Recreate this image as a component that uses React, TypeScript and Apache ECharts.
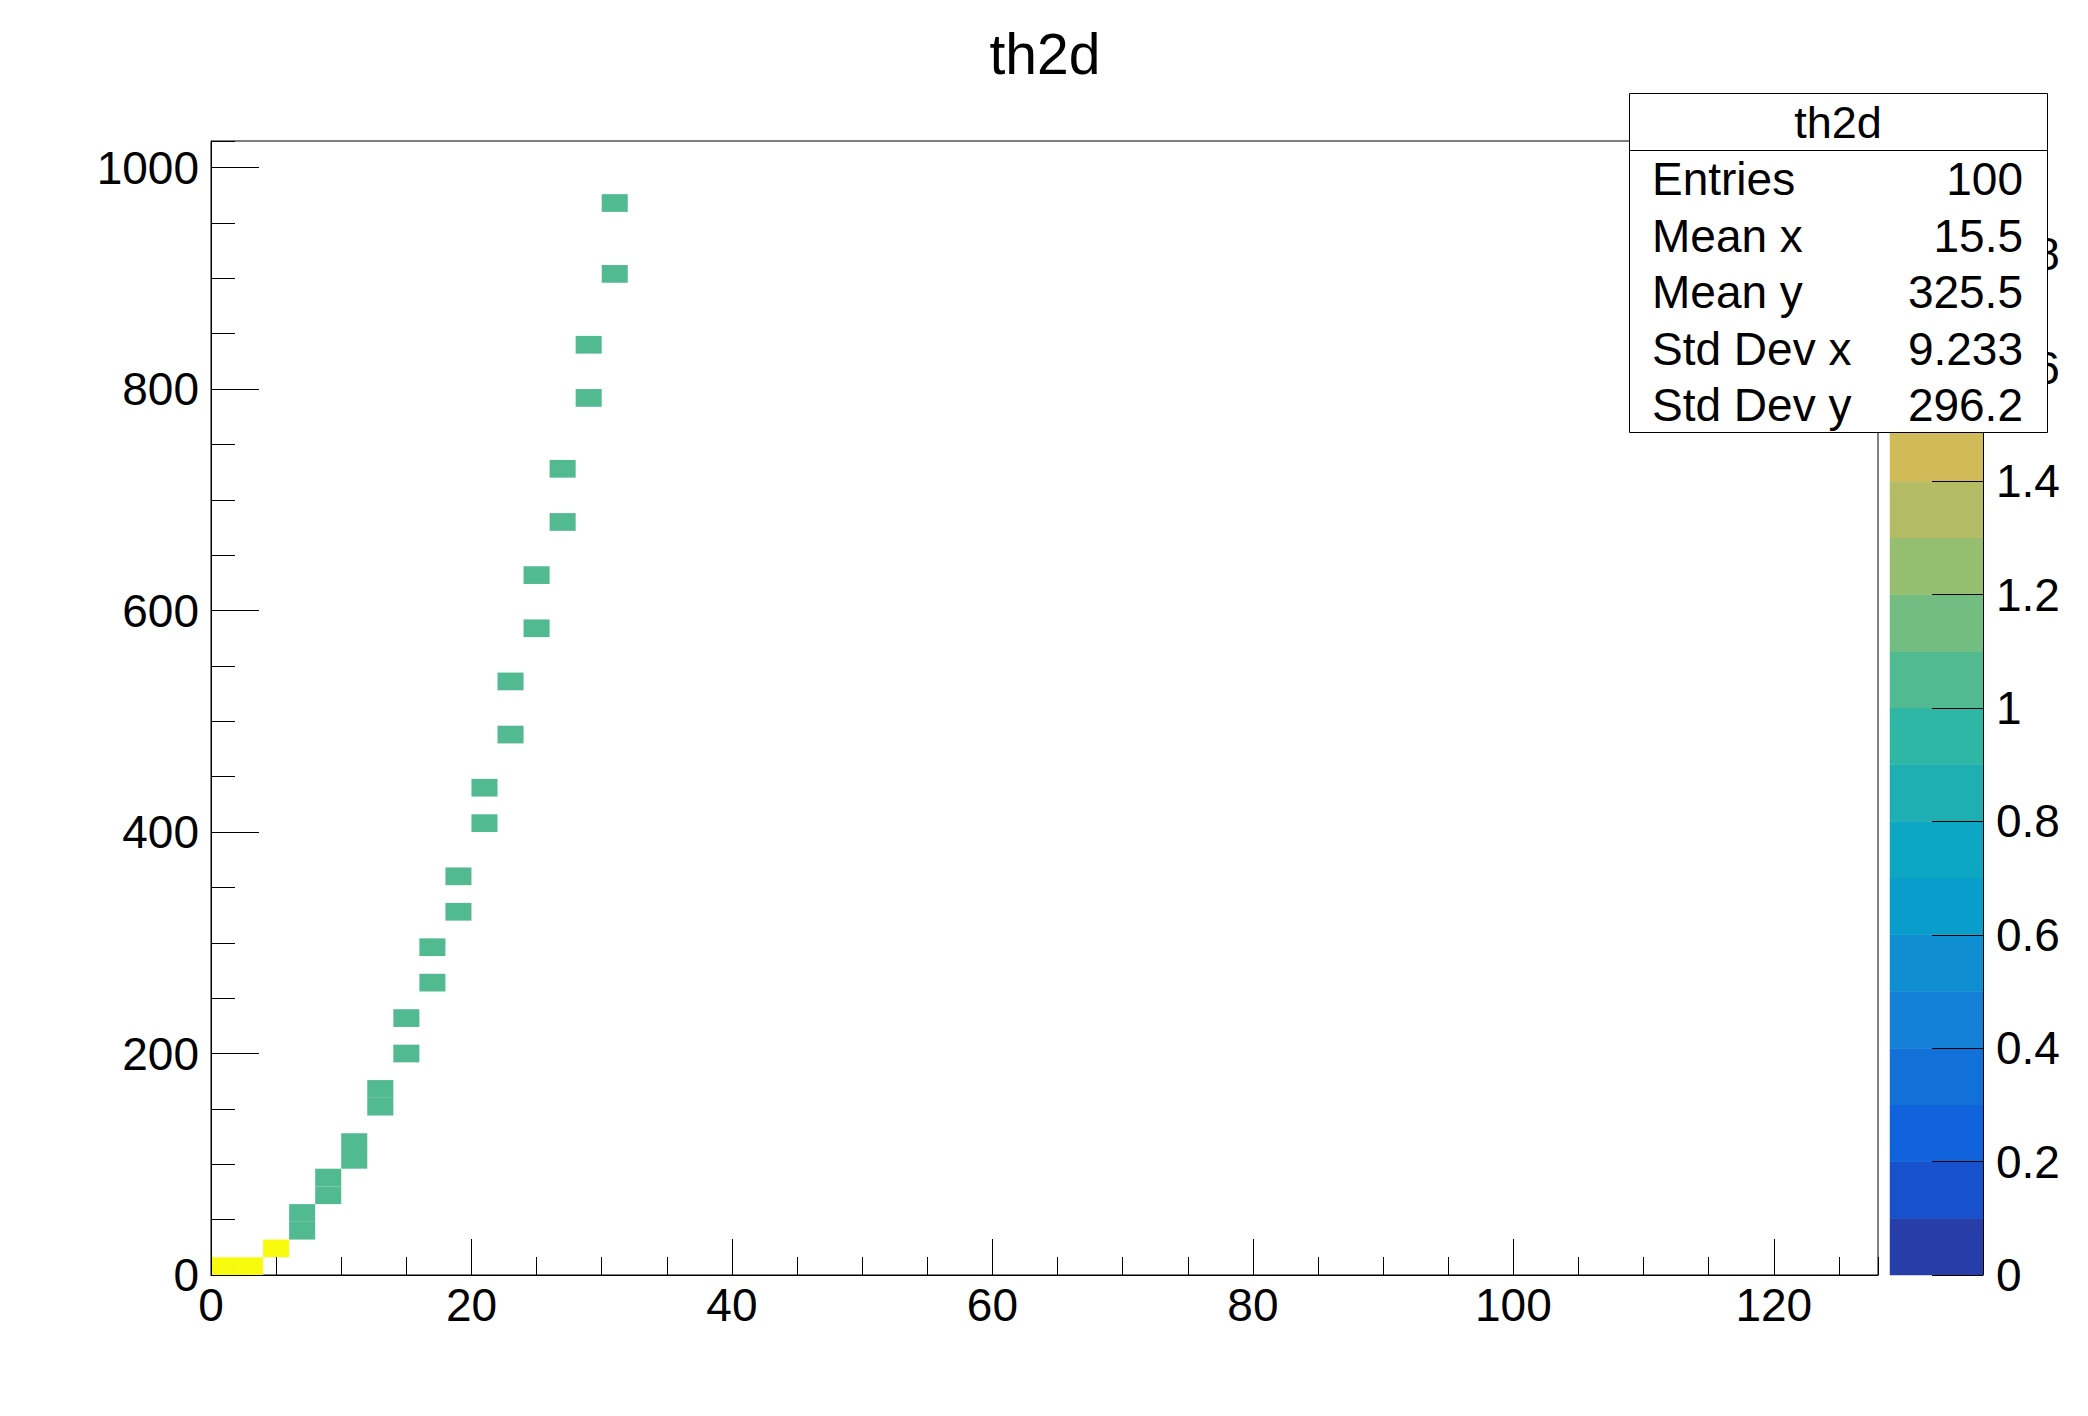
import React, { useEffect, useRef } from 'react';
import * as echarts from 'echarts';

const FONT = "'Liberation Sans', Arial, Helvetica, sans-serif";

// filled bins of th2d: lower x edge, lower y edge, bin content
const cellX = [0, 2, 4, 6, 6, 8, 8, 10, 10, 12, 12, 14, 14, 16, 16, 18, 18, 20, 20, 22, 22, 24, 24, 26, 26, 28, 28, 30, 30];
const cellY = [0, 0, 16, 32, 48, 64, 80, 96, 112, 144, 160, 192, 224, 256, 288, 320, 352, 400, 432, 480, 528, 576, 624, 672, 720, 784, 832, 896, 960];
const cellCount = [2, 2, 2, 1, 1, 1, 1, 1, 1, 1, 1, 1, 1, 1, 1, 1, 1, 1, 1, 1, 1, 1, 1, 1, 1, 1, 1, 1, 1];

const binWidthX = 2;
const binWidthY = 16;

// z palette (kBird, 20 contours from 0 to 2)
const zMin = 0;
const zMax = 2;
const paletteColors = [
  '#273da8', '#1751cb', '#1063dc', '#1271d9', '#1480d6',
  '#0e8ed1', '#099dcc', '#0da7c3', '#1eafb3', '#2eb7a4',
  '#52ba91', '#74bd80', '#96be71', '#b4bc65', '#d1bb59',
  '#e2c04a', '#f5c63a', '#fdd32a', '#fbe81c', '#f9fb0e',
];

const statsTitle = 'th2d';
const statsLabels = ['Entries', 'Mean x', 'Mean y', 'Std Dev x', 'Std Dev y'];
const statsValues = ['100', '15.5', '325.5', '9.233', '296.2'];

const cells = cellX.map((x, i) => [x, cellY[i], cellCount[i]]);
const levelStep = (zMax - zMin) / paletteColors.length;

const App = () => {
  const chartRef = useRef<HTMLDivElement>(null);

  useEffect(() => {
    const chart = echarts.init(chartRef.current, null, { renderer: 'svg' });

    const black = '#000';
    const plain = (v: number) => String(Math.round(v * 10) / 10);
    const statRows = statsLabels.flatMap((label, i) => {
      const y = 179 + i * 56.5;
      return [
        {
          type: 'text', z: 101, x: 1652, y,
          style: { text: label, font: `46px ${FONT}`, fill: black, textAlign: 'left', textVerticalAlign: 'middle' },
        },
        {
          type: 'text', z: 101, x: 2023, y,
          style: { text: statsValues[i], font: `46px ${FONT}`, fill: black, textAlign: 'right', textVerticalAlign: 'middle' },
        },
      ];
    });

    const option = {
      animation: false,
      backgroundColor: '#fff',
      textStyle: { fontFamily: FONT },
      title: {
        text: 'th2d',
        left: 1040,
        top: 20,
        textAlign: 'center',
        textStyle: { fontFamily: FONT, fontSize: 57, fontWeight: 'normal', color: black },
      },
      grid: [
        {
          left: 211, top: 141, width: 1667, height: 1134,
          show: true, borderColor: black, borderWidth: 1, backgroundColor: 'transparent',
        },
        { left: 1890, top: 141, width: 93, height: 1134 },
      ],
      xAxis: [
        {
          type: 'value', gridIndex: 0, min: 0, max: 128, interval: 20, z: 10,
          axisLine: { show: true, onZero: false, lineStyle: { color: black, width: 1 } },
          axisTick: { show: true, inside: true, length: 36, lineStyle: { color: black } },
          axisLabel: { show: true, margin: 7, fontSize: 46, color: black, fontFamily: FONT, showMaxLabel: false, formatter: plain },
          splitLine: { show: false },
        },
        {
          type: 'value', gridIndex: 0, min: 0, max: 128, interval: 5, position: 'bottom', z: 10,
          axisLine: { show: false, onZero: false },
          axisTick: { show: true, inside: true, length: 18, lineStyle: { color: black } },
          axisLabel: { show: false },
          splitLine: { show: false },
        },
        { type: 'value', gridIndex: 1, min: 0, max: 1, show: false },
      ],
      yAxis: [
        {
          type: 'value', gridIndex: 0, min: 0, max: 1024, interval: 200, z: 10,
          axisLine: { show: true, onZero: false, lineStyle: { color: black, width: 1 } },
          axisTick: { show: true, inside: true, length: 48, lineStyle: { color: black } },
          axisLabel: { show: true, margin: 12, fontSize: 46, color: black, fontFamily: FONT, showMaxLabel: false, formatter: plain },
          splitLine: { show: false },
        },
        {
          type: 'value', gridIndex: 0, min: 0, max: 1024, interval: 50, position: 'left', z: 10,
          axisLine: { show: false, onZero: false },
          axisTick: { show: true, inside: true, length: 24, lineStyle: { color: black } },
          axisLabel: { show: false },
          splitLine: { show: false },
        },
        {
          type: 'value', gridIndex: 1, min: zMin, max: zMax, interval: 0.2, position: 'right', z: 10,
          axisLine: { show: true, onZero: false, lineStyle: { color: black, width: 1 } },
          axisTick: { show: true, inside: true, length: 51, lineStyle: { color: black } },
          axisLabel: { show: true, margin: 13, fontSize: 46, color: black, fontFamily: FONT, formatter: plain },
          splitLine: { show: false },
        },
      ],
      series: [
        {
          type: 'custom',
          xAxisIndex: 0,
          yAxisIndex: 0,
          silent: true,
          encode: { x: 0, y: 1 },
          data: cells,
          renderItem: (params: any, api: any) => {
            const x0 = api.value(0);
            const y0 = api.value(1);
            const n = api.value(2);
            const a = api.coord([x0, y0]);
            const b = api.coord([x0 + binWidthX, y0 + binWidthY]);
            const band = Math.min(paletteColors.length - 1, Math.floor((n - zMin) / levelStep + 1e-6));
            return {
              type: 'rect',
              shape: { x: a[0], y: b[1], width: b[0] - a[0], height: a[1] - b[1] },
              style: { fill: paletteColors[band] },
            };
          },
        },
        {
          type: 'custom',
          xAxisIndex: 2,
          yAxisIndex: 2,
          silent: true,
          data: paletteColors.map((c, i) => [i]),
          renderItem: (params: any, api: any) => {
            const i = api.value(0);
            const lo = zMin + i * levelStep;
            const a = api.coord([0, lo]);
            const b = api.coord([1, lo + levelStep]);
            return {
              type: 'rect',
              shape: { x: a[0], y: b[1], width: b[0] - a[0], height: a[1] - b[1] },
              style: { fill: paletteColors[i], stroke: paletteColors[i], lineWidth: 0.5 },
            };
          },
        },
      ],
      graphic: [
        {
          type: 'rect', z: 100,
          shape: { x: 1629.5, y: 93.5, width: 418, height: 339 },
          style: { fill: '#fff', stroke: black, lineWidth: 1 },
        },
        {
          type: 'line', z: 101,
          shape: { x1: 1629.5, y1: 150.5, x2: 2047.5, y2: 150.5 },
          style: { stroke: black, lineWidth: 1 },
        },
        {
          type: 'text', z: 101, x: 1838, y: 122,
          style: { text: statsTitle, font: `45px ${FONT}`, fill: black, textAlign: 'center', textVerticalAlign: 'middle' },
        },
        ...statRows,
      ],
    };

    chart.setOption(option as any);

    return () => {
      chart.dispose();
    };
  }, []);

  return (
    <div
      ref={chartRef}
      style={{ position: 'fixed', left: 0, top: 0, width: 2088, height: 1416, background: '#fff' }}
    />
  );
};

export default App;
